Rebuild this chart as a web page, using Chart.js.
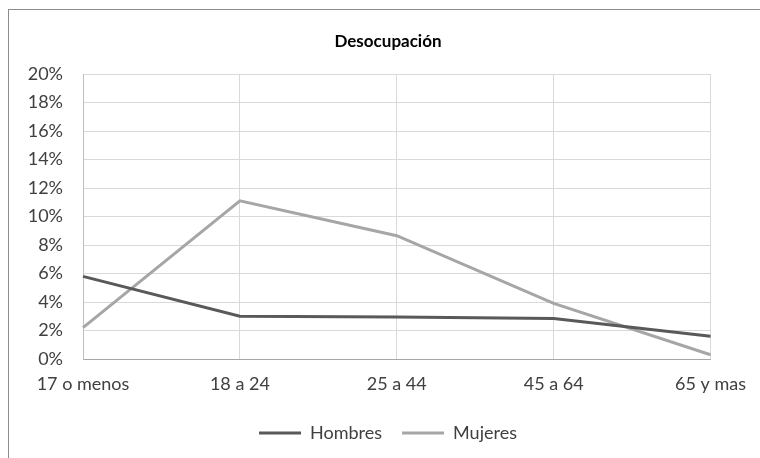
<!DOCTYPE html>
<html>
<head>
<meta charset="utf-8">
<script src="https://cdn.jsdelivr.net/npm/chart.js@4"></script>
<style>
  html, body { margin: 0; padding: 0; background: #fff; }
  #wrap { position: relative; width: 760px; height: 458px; overflow: hidden; }
  #frame {
    position: absolute; left: 8px; top: 9px; right: -2px; bottom: -2px;
    border-left: 1px solid #8c8c8c; border-top: 1px solid #8c8c8c;
    pointer-events: none;
  }
</style>
</head>
<body>
<div id="wrap">
  <canvas id="mainChart" width="760" height="458"></canvas>
  <div id="frame"></div>
</div>
<script>
  // age groups on the x axis
  const ageGroups = ['17 o menos', '18 a 24', '25 a 44', '45 a 64', '65 y mas'];

  // unemployment rate, in percent
  const hombres = [5.8, 3.0, 2.95, 2.85, 1.6];
  const mujeres = [2.2, 11.1, 8.65, 3.9, 0.3];

  const textColor = '#404040';
  const gridColor = '#d9d9d9';
  const fontFamily = 'Lato';

  const ctx = document.getElementById('mainChart').getContext('2d');

  const mainChart = new Chart(ctx, {
    type: 'line',
    data: {
      labels: ageGroups,
      datasets: [
        {
          label: 'Hombres',
          data: hombres,
          borderColor: '#595959',
          backgroundColor: '#595959',
          borderWidth: 3,
          pointRadius: 0,
          tension: 0
        },
        {
          label: 'Mujeres',
          data: mujeres,
          borderColor: '#a6a6a6',
          backgroundColor: '#a6a6a6',
          borderWidth: 3,
          pointRadius: 0,
          tension: 0
        }
      ]
    },
    options: {
      responsive: false,
      animation: false,
      layout: { padding: { left: 16, top: 9, right: 0, bottom: 6 } },
      plugins: {
        title: {
          display: true,
          text: 'Desocupación',
          color: '#000',
          font: { family: fontFamily, size: 17, weight: 'bold' },
          padding: { top: 22, bottom: 22.6 }
        },
        legend: {
          position: 'bottom',
          labels: {
            color: textColor,
            font: { family: fontFamily, size: 18 },
            usePointStyle: true,
            pointStyle: 'line',
            pointStyleWidth: 42,
            padding: 20
          }
        },
        tooltip: { enabled: false }
      },
      scales: {
        x: {
          grid: { color: gridColor, drawTicks: false },
          border: { color: '#a6a6a6' },
          afterFit: (scale) => { scale.height = 45; },
          ticks: {
            color: textColor,
            font: { family: fontFamily, size: 18 },
            padding: 14,
            maxRotation: 0
          }
        },
        y: {
          min: 0,
          max: 20,
          grid: { color: gridColor, drawTicks: false },
          border: { color: '#bfbfbf' },
          afterFit: (scale) => { scale.width = 67; },
          ticks: {
            stepSize: 2,
            color: textColor,
            font: { family: fontFamily, size: 18 },
            padding: 20,
            callback: (v) => v + '%'
          }
        },
        // empty right-hand axis, only keeps space right of the plot
        yRight: {
          position: 'right',
          grid: { display: false },
          border: { display: false },
          ticks: { display: false },
          afterFit: (scale) => { scale.width = 49; }
        }
      }
    }
  });
</script>
</body>
</html>
